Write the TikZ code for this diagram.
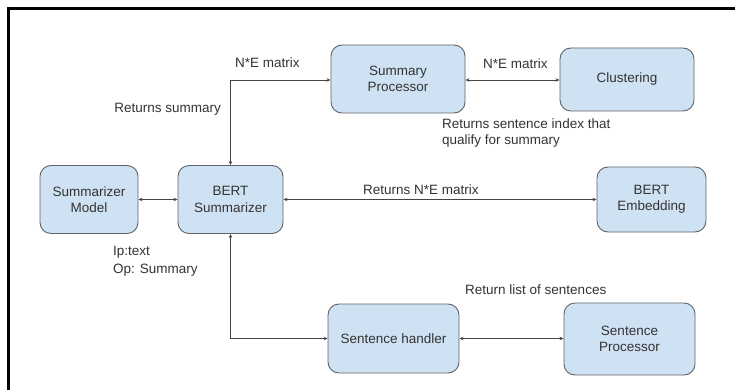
\documentclass[tikz,border=0pt]{standalone}
\usepackage{fontspec}
\setmainfont{Liberation Sans}
\usetikzlibrary{arrows.meta}
\definecolor{boxfill}{HTML}{CFE2F3}
\definecolor{boxline}{HTML}{5F6368}
\definecolor{ink}{HTML}{333333}
\definecolor{wire}{HTML}{444444}
\tikzset{
  block/.style={draw=boxline, line width=0.9pt, fill=boxfill, rounded corners=11pt,
    align=center, text=ink, font=\fontsize{13.5}{16.5}\selectfont, inner sep=0pt},
  lbl/.style={text=ink, font=\fontsize{13.5}{16}\selectfont, inner sep=0pt, align=left},
  link/.style={draw=wire, line width=0.8pt, {Stealth[length=4pt,width=3.5pt]}-{Stealth[length=4pt,width=3.5pt]}}
}
\begin{document}
\begin{tikzpicture}[x=1pt,y=-1pt]
  \useasboundingbox (0,0) rectangle (735,390);
  \fill[white] (0,0) rectangle (735,390);
  % frame
  \draw[line width=3pt] (8,390) -- (8,9) -- (735,9);

  % components
  \node[block, minimum width=134pt, minimum height=68pt] (sp)  at (398,79)    {Summary\\Processor};
  \node[block, minimum width=134pt, minimum height=63pt] (cl)  at (627,79.5)  {Clustering};
  \node[block, minimum width=98pt,  minimum height=68pt] (sm)  at (89,199.5)  {Summarizer\\Model};
  \node[block, minimum width=105pt, minimum height=68pt] (bs)  at (230.5,199.5) {BERT\\Summarizer};
  \node[block, minimum width=109pt, minimum height=65pt] (be)  at (651.5,199.5) {BERT\\Embedding};
  \node[block, minimum width=131pt, minimum height=69pt] (sh)  at (393.5,338.5) {Sentence handler};
  \node[block, minimum width=131pt, minimum height=72pt] (spr) at (629.5,339)   {Sentence\\Processor};

  % connectors
  \draw[link] (sm.east) -- (bs.west);
  \draw[link] (bs.east) -- (be.west);
  \draw[link] (sp.east |- 0,80) -- (cl.west |- 0,80);
  \draw[link] (bs.north) |- (sp.west |- 0,80);
  \draw[link] (bs.south) |- (sh.west);
  \draw[link] (sh.east) -- (spr.west |- sh.east);

  % labels
  \node[lbl, anchor=west] (l1) at (235,63) {N*E matrix};
  \node[lbl, anchor=west] (l2) at (483,64) {N*E matrix};
  \node[lbl, anchor=east] (l3) at (221,109) {Returns summary};
  \node[lbl, anchor=north west] (l4) at (442,119) {Returns sentence index that\\qualify for summary};
  \node[lbl, anchor=west] (l5) at (363,190) {Returns N*E matrix};
  \node[lbl, anchor=north west] (l6) at (113,246) {Ip:text\\[2pt]Op: Summary};
  \node[lbl, anchor=west] (l7) at (465,290) {Return list of sentences};
\end{tikzpicture}
\end{document}
